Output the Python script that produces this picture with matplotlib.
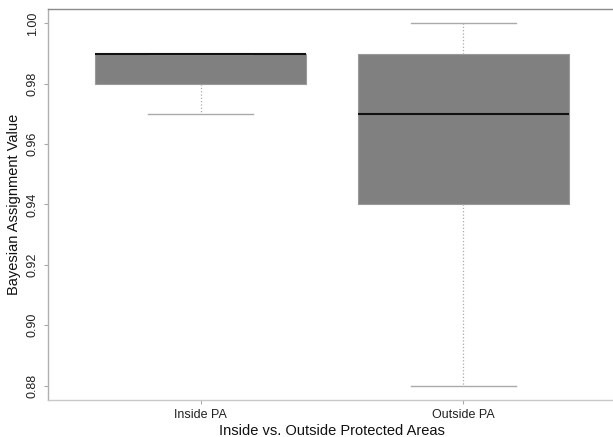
import matplotlib
matplotlib.use("Agg")
import matplotlib.pyplot as plt

plt.rcParams['font.family'] = ['Liberation Sans', 'DejaVu Sans']

# Box statistics
groups = ['Inside PA', 'Outside PA']
whislo = [0.97, 0.88]
q1 = [0.98, 0.94]
med = [0.99, 0.97]
q3 = [0.99, 0.99]
whishi = [0.99, 1.00]

stats = []
for i in range(len(groups)):
    stats.append(dict(label=groups[i], whislo=whislo[i], q1=q1[i], med=med[i],
                      q3=q3[i], whishi=whishi[i], fliers=[]))

fig = plt.figure(figsize=(6.13, 4.37), dpi=100)
ax = fig.add_axes([0.0783, 0.0847, 0.9266, 0.8947])

ax.bxp(stats, positions=[1, 2], widths=0.8, patch_artist=True,
       showfliers=False,
       boxprops=dict(facecolor='#808080', edgecolor='#9a9a9a', linewidth=0.8),
       medianprops=dict(color='#111111', linewidth=1.5),
       whiskerprops=dict(color='#aaaaaa', linestyle=':', linewidth=0.9),
       capprops=dict(color='#aaaaaa', linewidth=1.0),
       capwidths=0.4)

ax.set_xlim(0.42, 2.58)
ax.set_ylim(0.8752, 1.0048)
ax.set_yticks([0.88, 0.90, 0.92, 0.94, 0.96, 0.98, 1.00])
ax.set_yticklabels(['0.88', '0.90', '0.92', '0.94', '0.96', '0.98', '1.00'],
                   rotation=90, va='center')
ax.set_xticks([1, 2])
ax.set_xticklabels(groups)

# frame: top darker, left/bottom light, right falls off the picture
ax.spines['right'].set_visible(False)
ax.spines['top'].set_color('#8a8a8a')
ax.spines['left'].set_color('#b0b0b0')
ax.spines['bottom'].set_color('#c8c8c8')
for s in ax.spines.values():
    s.set_linewidth(1.0)
ax.tick_params(colors='#aaaaaa', labelcolor='#222222', labelsize=9,
               length=3, width=0.8)

ax.set_xlabel('Inside vs. Outside Protected Areas', fontsize=10.5,
              color='#111111', labelpad=2)
ax.set_ylabel('Bayesian Assignment Value', fontsize=10.5,
              color='#111111', labelpad=4)

fig.savefig('out.png', dpi=100)
